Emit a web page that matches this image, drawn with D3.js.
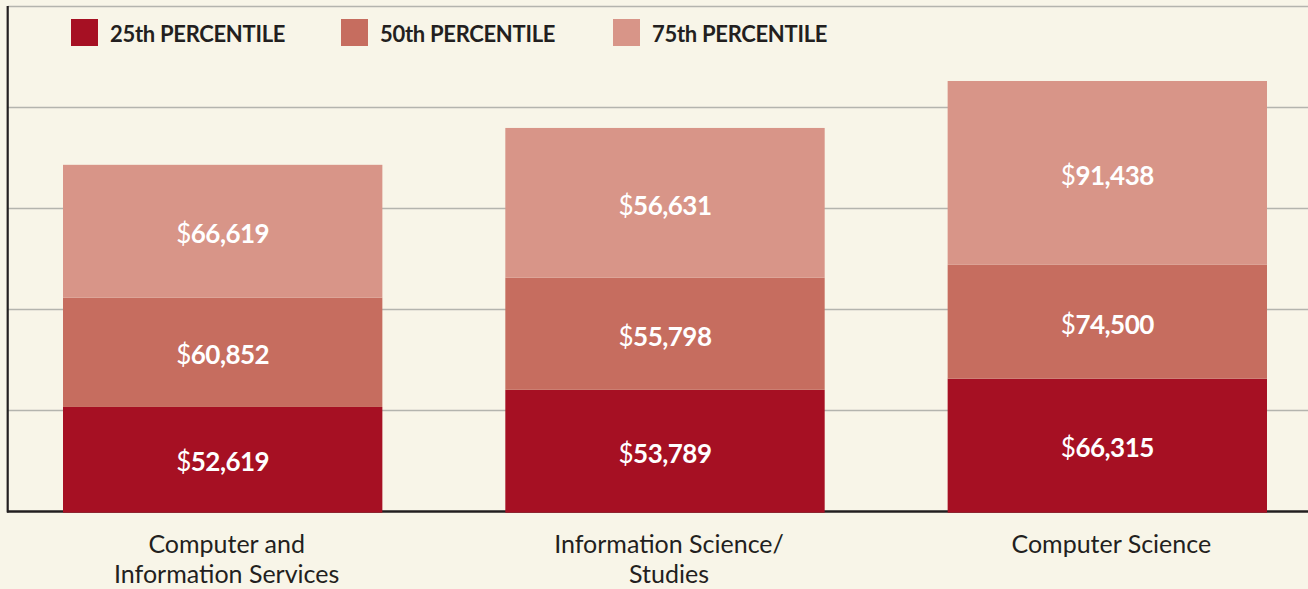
<!DOCTYPE html>
<html>
<head>
<meta charset="utf-8">
<script src="https://cdn.jsdelivr.net/npm/d3@7"></script>
<style>
  html, body { margin: 0; padding: 0; background: #f8f5e8; }
  svg { display: block; }
</style>
</head>
<body>
<svg id="chart" width="1308" height="589"></svg>
<script>
// ---- data ----
const categories = [
  ["Computer and", "Information Services"],
  ["Information Science/", "Studies"],
  ["Computer Science"]
];
const seriesNames = ["25th PERCENTILE", "50th PERCENTILE", "75th PERCENTILE"];
// salary labels printed in each segment
const p25Labels = [52619, 53789, 66315];
const p50Labels = [60852, 55798, 74500];
const p75Labels = [66619, 56631, 91438];
// segment sizes as drawn in the reference (chart units, 0..100000 axis)
const p25Drawn = [20700, 24100, 26300];
const p50Drawn = [21650, 22200, 22550];
const p75Drawn = [26300, 29650, 36400];
const gridTicks = [0, 20000, 40000, 60000, 80000, 100000];

const colors = ["#a61023", "#c66d5f", "#d89588"];

const svg = d3.select("#chart");
const W = 1308, H = 589;
svg.append("rect").attr("width", W).attr("height", H).attr("fill", "#f8f5e8");

const y = d3.scaleLinear().domain([0, 100000]).range([511.5, 6.5]);
const x = d3.scaleBand().domain(d3.range(categories.length))
  .range([63, 1267]).paddingInner(0.278).paddingOuter(0);

// gridlines
svg.append("g").selectAll("line")
  .data(gridTicks.filter(d => d > 0))
  .join("line")
  .attr("x1", 8).attr("x2", W)
  .attr("y1", d => y(d)).attr("y2", d => y(d))
  .attr("stroke", "#b4b4ae").attr("stroke-width", 1.6);

// left axis line
svg.append("line")
  .attr("x1", 7.7).attr("x2", 7.7)
  .attr("y1", y(100000) - 0.5).attr("y2", y(0) + 1)
  .attr("stroke", "#231f20").attr("stroke-width", 2.2);

// baseline
svg.append("line")
  .attr("x1", 7).attr("x2", W)
  .attr("y1", y(0)).attr("y2", y(0))
  .attr("stroke", "#231f20").attr("stroke-width", 2.4);

// stacked data
const drawn = [p25Drawn, p50Drawn, p75Drawn];
const labels = [p25Labels, p50Labels, p75Labels];
const rows = categories.map((c, i) => {
  const r = { i };
  drawn.forEach((arr, s) => { r["s" + s] = arr[i]; });
  return r;
});
const stack = d3.stack().keys(["s0", "s1", "s2"]);
const stacked = stack(rows);

const fmt = d3.format(",");
const bars = svg.append("g");
stacked.forEach((layer, s) => {
  const g = bars.append("g");
  g.selectAll("rect").data(layer).join("rect")
    .attr("x", d => x(d.data.i))
    .attr("width", x.bandwidth())
    .attr("y", d => y(d[1]))
    .attr("height", d => y(d[0]) - y(d[1]) + (s === 0 ? 1.2 : 0))
    .attr("fill", colors[s]);
  const t = g.selectAll("text").data(layer).join("text")
    .attr("x", d => x(d.data.i) + x.bandwidth() / 2)
    .attr("y", d => (y(d[0]) + y(d[1])) / 2 + 12)
    .attr("text-anchor", "middle")
    .attr("fill", "#ffffff")
    .attr("font-family", "Lato, 'Open Sans', sans-serif")
    .attr("font-size", 26)
    .attr("letter-spacing", -0.5);
  t.append("tspan").attr("font-weight", 400).text("$");
  t.append("tspan").attr("font-weight", 700)
    .text(d => fmt(labels[s][d.data.i]));
});

// category labels
const xl = svg.append("g");
categories.forEach((lines, i) => {
  const cx = x(i) + x.bandwidth() / 2 + 4;
  const t = xl.append("text")
    .attr("x", cx)
    .attr("y", 553)
    .attr("text-anchor", "middle")
    .attr("fill", "#231f20")
    .attr("font-family", "Lato, 'Open Sans', sans-serif")
    .attr("font-size", 25);
  lines.forEach((ln, k) => {
    t.append("tspan").attr("x", cx)
      .attr("dy", k === 0 ? 0 : 30).text(ln);
  });
});

// legend
const legX = [71, 341, 613];
const leg = svg.append("g");
seriesNames.forEach((name, s) => {
  leg.append("rect").attr("x", legX[s]).attr("y", 19)
    .attr("width", 27).attr("height", 27).attr("fill", colors[s]);
  leg.append("text").attr("x", legX[s] + 39).attr("y", 42)
    .attr("fill", "#231f20")
    .attr("font-family", "Lato, 'Open Sans', sans-serif")
    .attr("font-weight", 700)
    .attr("font-size", 22)
    .attr("letter-spacing", -0.3)
    .text(name);
});
</script>
</body>
</html>
